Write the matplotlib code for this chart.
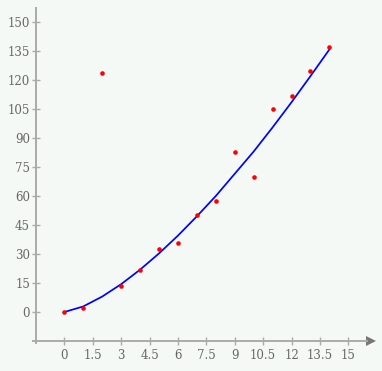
import matplotlib.pyplot as plt
import numpy as np

bg = "#f5f9f6"
axis_gray = "#aaaaaa"
text_gray = "#666666"
font = "DejaVu Serif"

x = [0, 1, 2, 3, 4, 5, 6, 7, 8, 9, 10, 11, 12, 13, 14]
y_points = [0, 2, 123.5, 13.6, 21.9, 32.6, 35.5, 50.2, 57.6, 82.8, 70, 105.2, 111.6, 124.8, 137.2]
y_fit = [0, 2.9, 8.0, 14.4, 21.9, 30.3, 39.5, 49.5, 60, 71.5, 83, 95.5, 108.5, 122, 135.8]

xticks = [0, 1.5, 3, 4.5, 6, 7.5, 9, 10.5, 12, 13.5, 15]
xticklabels = ["0", "1.5", "3", "4.5", "6", "7.5", "9", "10.5", "12", "13.5", "15"]
yticks = [0, 15, 30, 45, 60, 75, 90, 105, 120, 135, 150]

fig = plt.figure(figsize=(3.82, 3.71), dpi=100, facecolor=bg)
ax = fig.add_axes([0, 0, 1, 1], facecolor=bg)
ax.set_xlim(-3.397, 16.78)
ax.set_ylim(-30.5, 161.4)

ax.plot(x, y_fit, "-", color="#0000ff", linewidth=1.25, zorder=3)
ax.plot(x, y_points, "o", color="#ff0000", markersize=3.3, markeredgewidth=0, zorder=4)

for s in ["top", "right"]:
    ax.spines[s].set_visible(False)
ax.spines["left"].set_position(("data", -1.5))
ax.spines["bottom"].set_position(("data", -15))
ax.spines["left"].set_bounds(-15.9, 157.1)
ax.spines["bottom"].set_bounds(-1.66, 16.0)
for s in ["left", "bottom"]:
    ax.spines[s].set_color(axis_gray)
    ax.spines[s].set_linewidth(1.4)
ax.plot(16.2, -15, marker=">", markersize=7, color="#777777",
        markeredgewidth=0, clip_on=False)

ax.set_xticks(xticks)
ax.set_xticklabels(xticklabels)
ax.set_yticks(yticks)
ax.tick_params(direction="inout", length=6, width=1, color=axis_gray,
               labelcolor=text_gray, labelsize=8.5)
ax.tick_params(axis="x", pad=2.9)
ax.tick_params(axis="y", pad=1.2)
for lab in ax.get_xticklabels() + ax.get_yticklabels():
    lab.set_fontname(font)

fig.savefig("out.png", dpi=100, facecolor=bg)
